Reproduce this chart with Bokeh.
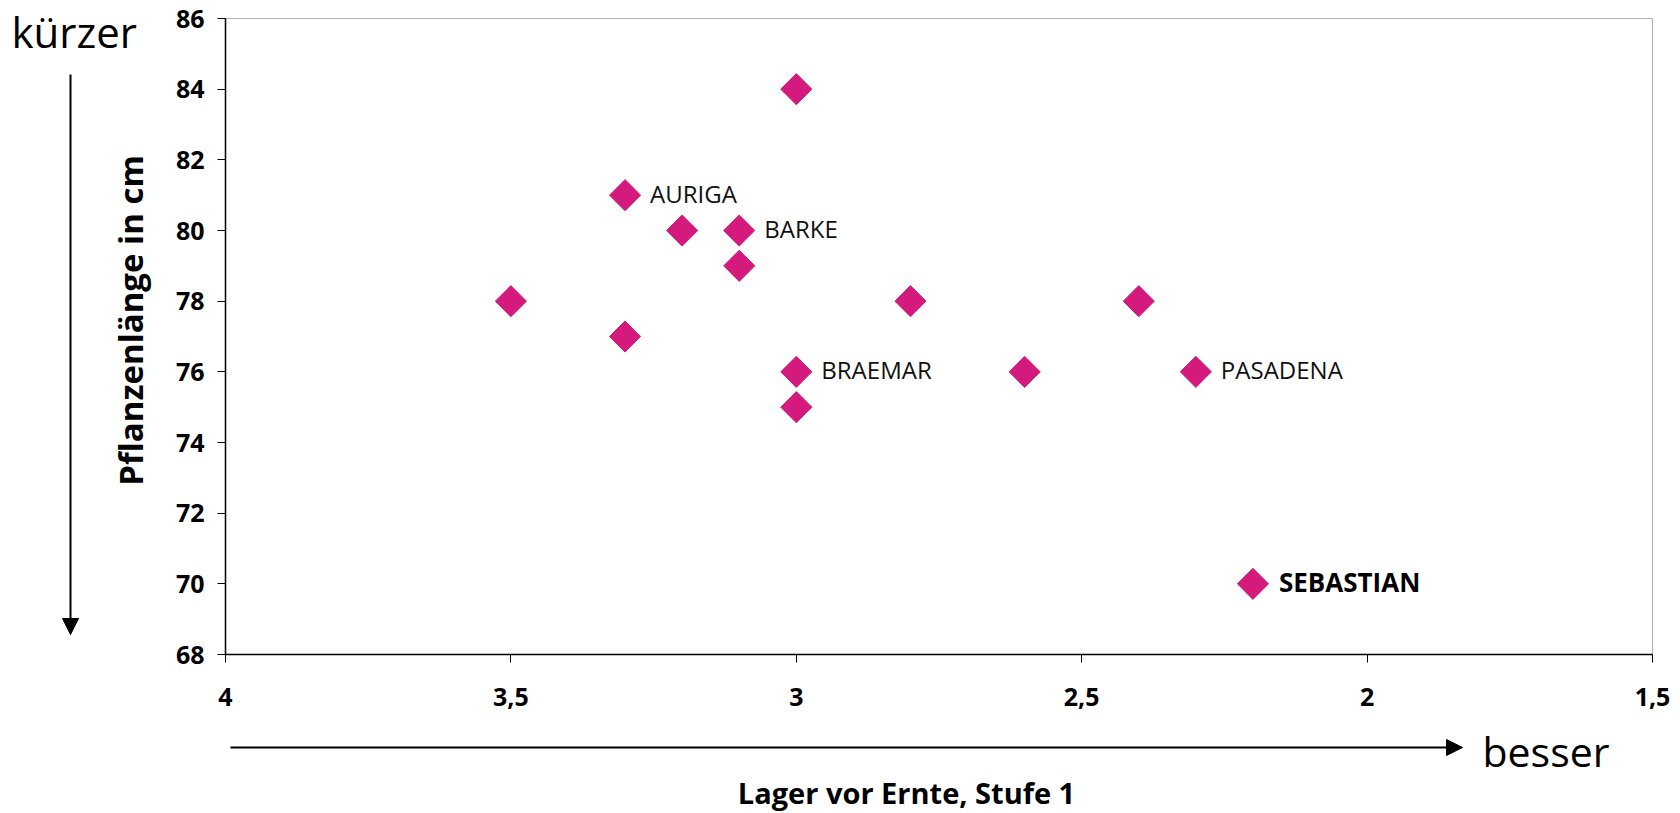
import math
from bokeh.plotting import figure
from bokeh.models import (Range1d, Label, Arrow, NormalHead, FixedTicker,
                          ColumnDataSource, CustomJSTickFormatter, BoxAnnotation)
from bokeh.core.properties import value
from bokeh.embed import file_html
from bokeh.resources import INLINE

# ---- data -------------------------------------------------------------
lager = [3.5, 3.3, 3.3, 3.2, 3.1, 3.1, 3.0, 3.0, 3.0, 2.8, 2.6, 2.4, 2.3, 2.2]
laenge = [78, 81, 77, 80, 80, 79, 84, 76, 75, 78, 76, 78, 76, 70]
sorten = ["", "AURIGA", "", "", "BARKE", "", "", "BRAEMAR", "", "",
          "", "", "PASADENA", "SEBASTIAN"]
hervorgehoben = ["SEBASTIAN"]

x_ticks = [4, 3.5, 3, 2.5, 2, 1.5]
y_ticks = [68, 70, 72, 74, 76, 78, 80, 82, 84, 86]

x_titel = "Lager vor Ernte, Stufe 1"
y_titel = "Pflanzenlänge in cm"
oben_text = "kürzer"
rechts_text = "besser"

# ---- layout (pixel box of the plot area inside the canvas) ---------------
W, H = 1680, 813
PL, PR, PT, PB = 225, 1652, 18, 654
X0, X1 = 4, 1.5
Y0, Y1 = 68, 86

def dx(px):
    return X0 + (px - PL) / (PR - PL) * (X1 - X0)

def dy(py):
    return Y0 + (PB - py) / (PB - PT) * (Y1 - Y0)

FONT = "Open Sans"
PINK = "#D41A7C"

p = figure(width=W, height=H,
           x_range=Range1d(dx(0), dx(W)), y_range=Range1d(dy(H), dy(0)),
           output_backend="svg", toolbar_location=None,
           min_border_left=0, min_border_right=0,
           min_border_top=0, min_border_bottom=0)
p.background_fill_color = "white"
p.border_fill_color = "white"
p.outline_line_color = None
p.xgrid.visible = False
p.ygrid.visible = False

p.xaxis.ticker = FixedTicker(ticks=x_ticks, minor_ticks=[])
p.yaxis.ticker = FixedTicker(ticks=y_ticks, minor_ticks=[])
p.xaxis.formatter = CustomJSTickFormatter(code="return tick.toString().replace('.', ',');")
p.xaxis.fixed_location = Y0
p.yaxis.fixed_location = X0
p.xaxis.bounds = (min(X0, X1), max(X0, X1))
p.yaxis.bounds = (Y0, Y1)

for ax in (p.xaxis, p.yaxis):
    ax.axis_line_color = "black"
    ax.axis_line_width = 1.5
    ax.major_tick_line_color = "black"
    ax.major_tick_line_width = 1
    ax.major_tick_out = 8
    ax.major_tick_in = 0
    ax.minor_tick_out = 0
    ax.minor_tick_in = 0
    ax.major_label_text_font = FONT
    ax.major_label_text_font_size = "25px"
    ax.major_label_text_font_style = "bold"
    ax.major_label_text_color = "black"
p.yaxis.major_label_standoff = 13
p.xaxis.major_label_standoff = 25

# upper and right border of the plot area
p.add_layout(BoxAnnotation(left=X0, right=X1, bottom=Y0, top=Y1,
                           fill_color=None, line_color="black", line_width=1.2))

# point labels
norm = [(x, y, s) for x, y, s in zip(lager, laenge, sorten) if s and s not in hervorgehoben]
bold = [(x, y, s) for x, y, s in zip(lager, laenge, sorten) if s in hervorgehoben]
src_n = ColumnDataSource(dict(x=[a[0] for a in norm], y=[a[1] for a in norm], t=[a[2] for a in norm]))
src_b = ColumnDataSource(dict(x=[a[0] for a in bold], y=[a[1] for a in bold], t=[a[2] for a in bold]))
p.text(x="x", y="y", text="t", source=src_n, x_offset=25, y_offset=-2,
       text_baseline="middle", text_align="left", text_font=value(FONT),
       text_font_size="24px", text_color="#111111")
p.text(x="x", y="y", text="t", source=src_b, x_offset=26, y_offset=-2,
       text_baseline="middle", text_align="left", text_font=value(FONT),
       text_font_size="26px", text_font_style="bold", text_color="#000000")

p.scatter(lager, laenge, marker="square", angle=math.pi / 4, size=22,
          fill_color=PINK, line_color=PINK)

# decorations
p.add_layout(Label(x=dx(11), y=dy(31), text=oben_text, text_font=FONT,
                   text_font_size="42px", text_align="left",
                   text_baseline="alphabetic", text_color="black"))
p.add_layout(Label(x=dx(1482), y=dy(750), text=rechts_text, text_font=FONT,
                   text_font_size="41px", text_align="left",
                   text_baseline="alphabetic", text_color="black"))
p.add_layout(Label(x=dx(130), y=dy(320), text=y_titel, text_font=FONT,
                   text_font_size="33px", text_font_style="bold", angle=math.pi / 2,
                   text_align="center", text_baseline="middle", text_color="black"))
p.add_layout(Label(x=dx(906), y=dy(792), text=x_titel, text_font=FONT,
                   text_font_size="29px", text_font_style="bold",
                   text_align="center", text_baseline="alphabetic", text_color="black"))

p.add_layout(Arrow(x_start=dx(70), y_start=dy(74), x_end=dx(70), y_end=dy(634),
                   line_width=2, line_color="black",
                   end=NormalHead(size=16, fill_color="black", line_color="black")))
p.add_layout(Arrow(x_start=dx(230), y_start=dy(747), x_end=dx(1462), y_end=dy(747),
                   line_width=2, line_color="black",
                   end=NormalHead(size=16, fill_color="black", line_color="black")))

open("out.html", "w").write(file_html(p, INLINE))
